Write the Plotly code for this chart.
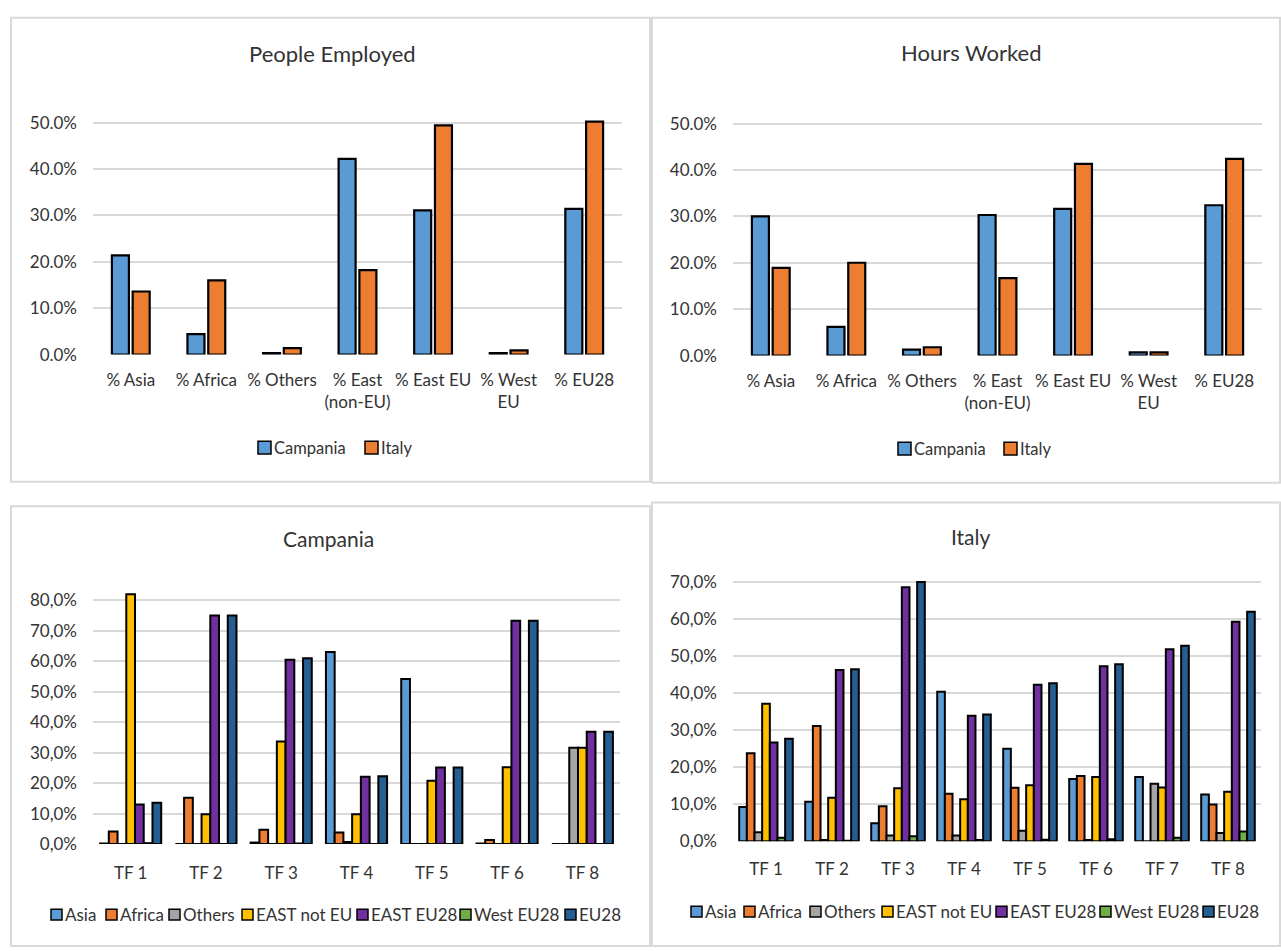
import plotly.graph_objects as go

# ---------------- data ----------------
share_cats = ["% Asia", "% Africa", "% Others", "% East<br>(non-EU)",
              "% East EU", "% West<br>EU", "% EU28"]

employed_campania = [21.4, 4.4, 0.3, 42.2, 31.1, 0.3, 31.4]
employed_italy = [13.6, 16.0, 1.4, 18.2, 49.4, 0.9, 50.2]

hours_campania = [30.0, 6.2, 1.3, 30.3, 31.6, 0.7, 32.4]
hours_italy = [18.9, 20.0, 1.8, 16.7, 41.3, 0.7, 42.4]

share_tickvals = [0, 10, 20, 30, 40, 50]
share_ticktext = ["0.0%", "10.0%", "20.0%", "30.0%", "40.0%", "50.0%"]

origin_groups = ["Asia", "Africa", "Others", "EAST not EU",
                 "EAST EU28", "West EU28", "EU28"]

tf_campania = ["TF 1", "TF 2", "TF 3", "TF 4", "TF 5", "TF 6", "TF 8"]
campania_asia = [0.2, 0.0, 0.5, 63.0, 54.2, 0.2, 0.0]
campania_africa = [4.1, 15.2, 4.7, 3.8, 0.0, 1.3, 0.0]
campania_others = [0.0, 0.0, 0.0, 0.7, 0.0, 0.0, 31.6]
campania_east_not_eu = [82.0, 9.8, 33.7, 9.8, 20.8, 25.2, 31.6]
campania_east_eu28 = [13.0, 75.0, 60.5, 22.1, 25.1, 73.3, 36.9]
campania_west_eu28 = [0.3, 0.0, 0.2, 0.0, 0.0, 0.0, 0.0]
campania_eu28 = [13.6, 75.0, 61.0, 22.3, 25.1, 73.3, 36.9]

tf_italy = ["TF 1", "TF 2", "TF 3", "TF 4", "TF 5", "TF 6", "TF 7", "TF 8"]
italy_asia = [9.2, 10.6, 4.8, 40.3, 24.9, 16.8, 17.3, 12.6]
italy_africa = [23.7, 31.1, 9.4, 12.8, 14.4, 17.6, 0.0, 9.9]
italy_others = [2.4, 0.3, 1.5, 1.5, 2.8, 0.3, 15.5, 2.2]
italy_east_not_eu = [37.1, 11.7, 14.3, 11.3, 15.1, 17.3, 14.5, 13.3]
italy_east_eu28 = [26.6, 46.2, 68.5, 33.8, 42.2, 47.2, 51.8, 59.2]
italy_west_eu28 = [0.9, 0.1, 1.3, 0.3, 0.4, 0.5, 0.9, 2.6]
italy_eu28 = [27.6, 46.4, 69.9, 34.2, 42.6, 47.7, 52.7, 61.9]

campania_tickvals = [0, 10, 20, 30, 40, 50, 60, 70, 80]
campania_ticktext = ["0,0%", "10,0%", "20,0%", "30,0%", "40,0%",
                     "50,0%", "60,0%", "70,0%", "80,0%"]
italy_tickvals = [0, 10, 20, 30, 40, 50, 60, 70]
italy_ticktext = ["0,0%", "10,0%", "20,0%", "30,0%", "40,0%", "50,0%",
                  "60,0%", "70,0%"]

# ---------------- styling ----------------
W, H = 1281, 951
FONT = "Lato"
TEXT = "#333333"
GRID = "#D9D9D9"
EDGE = "#000000"

region_colors = {"Campania": "#5B9BD5", "Italy": "#ED7D31"}
origin_colors = ["#5B9BD5", "#ED7D31", "#A5A5A5", "#FFC000",
                 "#7030A0", "#70AD47", "#255E91"]


def fx(px):
    return px / W


def fy(py):
    return 1 - py / H


fig = go.Figure()

# top panels: two bars per category
top_width = 0.225
top_offsets = {"Campania": -0.25, "Italy": 0.025}
for axis_id, series in (("", (employed_campania, employed_italy)),
                        ("2", (hours_campania, hours_italy))):
    for name, vals in zip(("Campania", "Italy"), series):
        fig.add_trace(go.Bar(
            x=share_cats, y=vals, name=name,
            width=top_width, offset=top_offsets[name],
            marker=dict(color=region_colors[name],
                        line=dict(color=EDGE, width=2.2)),
            xaxis="x" + axis_id, yaxis="y" + axis_id,
            showlegend=False,
        ))

# bottom panels: seven origin groups per type of farm
slot = 0.116
start = -3.5 * slot
campania_series = [campania_asia, campania_africa, campania_others,
                   campania_east_not_eu, campania_east_eu28,
                   campania_west_eu28, campania_eu28]
italy_series = [italy_asia, italy_africa, italy_others, italy_east_not_eu,
                italy_east_eu28, italy_west_eu28, italy_eu28]
for axis_id, cats, series_list in (("3", tf_campania, campania_series),
                                   ("4", tf_italy, italy_series)):
    for i, (name, vals) in enumerate(zip(origin_groups, series_list)):
        fig.add_trace(go.Bar(
            x=cats, y=vals, name=name,
            width=slot, offset=start + i * slot,
            marker=dict(color=origin_colors[i],
                        line=dict(color=EDGE, width=2)),
            xaxis="x" + axis_id, yaxis="y" + axis_id,
            showlegend=False,
        ))

# axes geometry (pixel positions of plot areas)
panels = {
    "": dict(x0=93, x1=622, y0=352, unit=4.74, ymax=50.6,
             n=len(share_cats), tv=share_tickvals, tt=share_ticktext,
             fs=17, xgap=13),
    "2": dict(x0=733, x1=1262, y0=353, unit=4.74, ymax=50.6,
              n=len(share_cats), tv=share_tickvals, tt=share_ticktext,
              fs=17, xgap=13),
    "3": dict(x0=93, x1=620, y0=852, unit=3.1125, ymax=82.6,
              n=len(tf_campania), tv=campania_tickvals,
              tt=campania_ticktext, fs=17, xgap=17),
    "4": dict(x0=733, x1=1261, y0=849, unit=3.786, ymax=70.4,
              n=len(tf_italy), tv=italy_tickvals, tt=italy_ticktext,
              fs=17, xgap=16),
}

layout_axes = {}
for k, p in panels.items():
    top_px = p["y0"] - p["ymax"] * p["unit"]
    layout_axes["xaxis" + k] = dict(
        domain=[fx(p["x0"]), fx(p["x1"])], anchor="y" + k,
        type="category", range=[-0.5, p["n"] - 0.5],
        showgrid=False, zeroline=False, showline=False, ticks="",
        ticklabelstandoff=p["xgap"],
        tickfont=dict(family=FONT, size=p["fs"], color=TEXT),
        fixedrange=True,
    )
    layout_axes["yaxis" + k] = dict(
        domain=[fy(p["y0"]), fy(top_px)], anchor="x" + k,
        range=[0, p["ymax"]], tickvals=p["tv"], ticktext=p["tt"],
        showgrid=True, gridcolor=GRID, gridwidth=2,
        zeroline=False, showline=False, ticks="",
        ticklabelstandoff=15,
        tickfont=dict(family=FONT, size=p["fs"], color=TEXT),
        fixedrange=True,
    )

# panel frames (the lower two run past the bottom edge of the page)
frames = [(11, 8, 650, 482), (652, 8, 1280, 483),
          (11, 507, 650, 956), (652, 503, 1280, 956)]
shapes = []
for x0, y0, x1, y1 in frames:
    shapes.append(dict(type="rect", xref="paper", yref="paper",
                       x0=fx(x0), x1=fx(x1), y0=fy(y1), y1=fy(y0),
                       line=dict(color=GRID, width=2), layer="below"))

annotations = []
titles = [("People Employed", 332, 44, 22), ("Hours Worked", 972, 43, 22),
          ("Campania", 328, 540, 21), ("Italy", 971, 538, 21)]
for text, cx, cy, size in titles:
    annotations.append(dict(text=text, x=fx(cx), y=fy(cy),
                            xref="paper", yref="paper", showarrow=False,
                            xanchor="center", yanchor="middle",
                            font=dict(family=FONT, size=size, color=TEXT)))

# legends: coloured swatch followed by its label
legend_rows = [
    (["Campania", "Italy"], [region_colors["Campania"], region_colors["Italy"]],
     [258, 365], 447, 13, 16.5),
    (["Campania", "Italy"], [region_colors["Campania"], region_colors["Italy"]],
     [898, 1004], 448, 13, 16.5),
    (origin_groups, origin_colors,
     [51, 106, 169, 242, 357, 460, 565], 924, 11, 17),
    (origin_groups, origin_colors,
     [691, 744, 810, 882, 996, 1100, 1203], 921, 11, 17),
]
for names, colors, xs, cy, sw, fs in legend_rows:
    for name, color, sx in zip(names, colors, xs):
        shapes.append(dict(type="rect", xref="paper", yref="paper",
                           x0=fx(sx), x1=fx(sx + sw),
                           y0=fy(cy + sw / 2), y1=fy(cy - sw / 2),
                           fillcolor=color,
                           line=dict(color=EDGE, width=1.5)))
        annotations.append(dict(text=name, x=fx(sx + sw + 1), y=fy(cy),
                                xref="paper", yref="paper", showarrow=False,
                                xanchor="left", yanchor="middle",
                                font=dict(family=FONT, size=fs, color=TEXT)))

fig.update_layout(
    width=W, height=H,
    margin=dict(l=0, r=0, t=0, b=0),
    paper_bgcolor="white", plot_bgcolor="white",
    barmode="overlay",
    shapes=shapes, annotations=annotations,
    showlegend=False,
    **layout_axes,
)

fig.write_html("out.html", config={"displayModeBar": False})
